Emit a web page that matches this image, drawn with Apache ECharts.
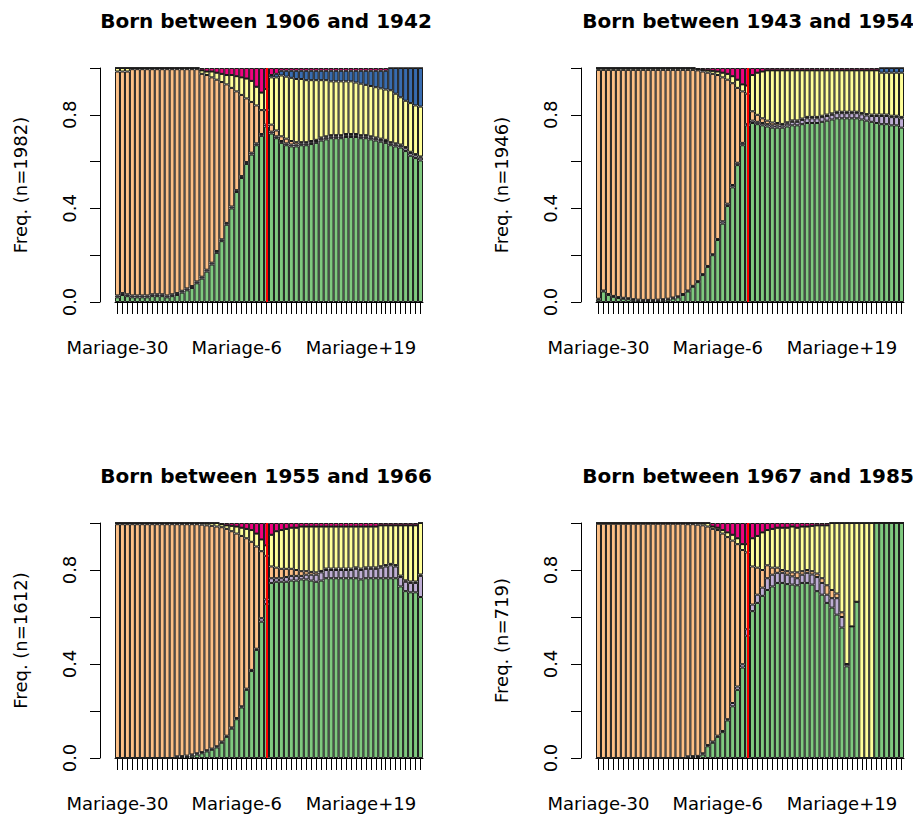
<!DOCTYPE html>
<html>
<head>
<meta charset="utf-8">
<script src="https://cdn.jsdelivr.net/npm/echarts@6/dist/echarts.min.js"></script>
<style>html,body{margin:0;padding:0;background:#fff}#c{width:913px;height:814px}</style>
</head>
<body>
<div id="c"></div>
<script>
const categories = [
"Mariage-30","Mariage-29","Mariage-28","Mariage-27","Mariage-26","Mariage-25","Mariage-24","Mariage-23","Mariage-22","Mariage-21",
"Mariage-20","Mariage-19","Mariage-18","Mariage-17","Mariage-16","Mariage-15","Mariage-14","Mariage-13","Mariage-12","Mariage-11",
"Mariage-10","Mariage-9","Mariage-8","Mariage-7","Mariage-6","Mariage-5","Mariage-4","Mariage-3","Mariage-2","Mariage-1",
"Mariage","Mariage+1","Mariage+2","Mariage+3","Mariage+4","Mariage+5","Mariage+6","Mariage+7","Mariage+8","Mariage+9",
"Mariage+10","Mariage+11","Mariage+12","Mariage+13","Mariage+14","Mariage+15","Mariage+16","Mariage+17","Mariage+18","Mariage+19",
"Mariage+20","Mariage+21","Mariage+22","Mariage+23","Mariage+24","Mariage+25","Mariage+26","Mariage+27","Mariage+28","Mariage+29",
"Mariage+30","Mariage+31"];
const shownTickLabels = ["Mariage-30","Mariage-6","Mariage+19"];
const marriageCategory = "Mariage";
const yTickLabels = ["0.0","0.4","0.8"];
const panelTitles = ["Born between 1906 and 1942","Born between 1943 and 1954","Born between 1955 and 1966","Born between 1967 and 1985"];
const yNames = ["Freq. (n=1982)","Freq. (n=1946)","Freq. (n=1612)","Freq. (n=719)"];
const stateColors = ["#7FC97F","#BEAED4","#FDC086","#FFFF99","#386CB0","#F0027F"];

// Panel 1 : 1906-1942
const p1Green = [0.02,0.03,0.025,0.02,0.02,0.02,0.02,0.025,0.025,0.025,
0.02,0.025,0.03,0.04,0.05,0.06,0.08,0.10,0.13,0.16,
0.21,0.26,0.33,0.40,0.47,0.53,0.59,0.63,0.67,0.71,
0.75,0.72,0.70,0.68,0.67,0.665,0.665,0.67,0.67,0.675,
0.68,0.69,0.695,0.70,0.70,0.70,0.705,0.705,0.705,0.70,
0.70,0.695,0.69,0.685,0.68,0.67,0.665,0.66,0.645,0.625,
0.615,0.605];
const p1Purple = [0.008,0.008,0.008,0.008,0.008,0.008,0.008,0.008,0.008,0.008,
0.008,0.008,0.008,0.008,0.008,0.008,0.008,0.008,0.008,0.008,
0.008,0.008,0.008,0.008,0.008,0.008,0.008,0.008,0.008,0.008,
0.008,0.008,0.008,0.008,0.008,0.008,0.008,0.008,0.008,0.008,
0.008,0.008,0.008,0.008,0.008,0.008,0.008,0.008,0.008,0.008,
0.008,0.008,0.008,0.008,0.008,0.008,0.008,0.008,0.012,0.012,
0.012,0.012];
const p1Orange = [0.957,0.947,0.952,0.967,0.967,0.967,0.967,0.962,0.962,0.962,
0.967,0.962,0.957,0.947,0.937,0.927,0.907,0.867,0.832,0.792,
0.732,0.672,0.592,0.507,0.422,0.347,0.272,0.217,0.162,0.102,
0.062,0.03,0.025,0.02,0.02,0.015,0.01,0.005,0.005,0.005,
0.005,0.005,0.005,0.005,0.005,0.005,0.005,0.005,0.005,0.005,
0.005,0.005,0.005,0.005,0.005,0.005,0.005,0.005,0.005,0.005,
0.005,0.005];
const p1Yellow = [0.015,0.015,0.015,0.005,0.005,0.005,0.005,0.005,0.005,0.005,
0.005,0.005,0.005,0.005,0.005,0.005,0.005,0.015,0.015,0.025,
0.03,0.035,0.04,0.055,0.065,0.075,0.085,0.09,0.08,0.075,
0.09,0.202,0.227,0.26,0.265,0.27,0.27,0.27,0.265,0.26,
0.255,0.245,0.24,0.23,0.23,0.23,0.225,0.225,0.22,0.22,
0.215,0.215,0.215,0.215,0.215,0.222,0.212,0.202,0.198,0.208,
0.208,0.213];
const p1Blue = [0,0,0,0,0,0,0,0,0,0,
0,0,0,0,0,0,0,0,0,0,
0,0,0,0,0,0,0,0,0,0,
0,0.01,0.015,0.02,0.025,0.03,0.035,0.035,0.04,0.04,
0.04,0.04,0.04,0.045,0.045,0.045,0.045,0.045,0.05,0.055,
0.06,0.065,0.07,0.075,0.08,0.095,0.11,0.125,0.14,0.15,
0.16,0.165];
const p1Pink = [0,0,0,0,0,0,0,0,0,0,
0,0,0,0,0,0,0,0.01,0.015,0.015,
0.02,0.025,0.03,0.03,0.035,0.04,0.045,0.055,0.08,0.105,
0.09,0.03,0.025,0.012,0.012,0.012,0.012,0.012,0.012,0.012,
0.012,0.012,0.012,0.012,0.012,0.012,0.012,0.012,0.012,0.012,
0.012,0.012,0.012,0.012,0.012,0,0,0,0,0,
0,0];

// Panel 2 : 1943-1954
const p2Green = [0.01,0.045,0.03,0.022,0.017,0.014,0.012,0.008,0.006,0.005,
0.005,0.005,0.006,0.008,0.01,0.015,0.02,0.03,0.045,0.065,
0.085,0.115,0.15,0.20,0.265,0.335,0.41,0.49,0.585,0.67,
0.755,0.765,0.76,0.755,0.75,0.745,0.745,0.745,0.75,0.755,
0.755,0.76,0.765,0.765,0.765,0.77,0.775,0.78,0.785,0.785,
0.785,0.785,0.785,0.78,0.775,0.77,0.765,0.76,0.76,0.755,
0.755,0.745];
const p2Purple = [0.004,0.004,0.004,0.004,0.004,0.004,0.004,0.004,0.004,0.004,
0.004,0.004,0.004,0.004,0.004,0.004,0.004,0.004,0.004,0.004,
0.004,0.004,0.004,0.004,0.004,0.01,0.01,0.01,0.01,0.01,
0.005,0.01,0.01,0.01,0.01,0.01,0.01,0.01,0.012,0.015,
0.015,0.018,0.02,0.02,0.02,0.02,0.02,0.02,0.022,0.022,
0.022,0.022,0.022,0.022,0.022,0.025,0.03,0.035,0.035,0.035,
0.035,0.04];
const p2Orange = [0.978,0.943,0.958,0.966,0.971,0.974,0.976,0.98,0.982,0.983,
0.983,0.983,0.982,0.98,0.978,0.973,0.968,0.958,0.943,0.923,
0.901,0.866,0.826,0.771,0.701,0.615,0.53,0.435,0.32,0.22,
0.13,0.04,0.03,0.02,0.015,0.012,0.01,0.006,0.006,0.006,
0.006,0.006,0.006,0.006,0.006,0.006,0.006,0.006,0.006,0.006,
0.006,0.006,0.006,0.006,0.006,0.006,0.006,0.006,0.006,0.006,
0.006,0.006];
const p2Yellow = [0.008,0.008,0.008,0.008,0.008,0.008,0.008,0.008,0.008,0.008,
0.008,0.008,0.008,0.008,0.008,0.008,0.008,0.008,0.008,0.008,
0.005,0.007,0.01,0.013,0.015,0.02,0.025,0.03,0.035,0.03,
0.035,0.155,0.18,0.20,0.215,0.223,0.225,0.229,0.222,0.214,
0.214,0.206,0.199,0.199,0.199,0.194,0.189,0.184,0.177,0.177,
0.177,0.177,0.177,0.182,0.187,0.189,0.189,0.179,0.179,0.184,
0.184,0.189];
const p2Blue = [0,0,0,0,0,0,0,0,0,0,
0,0,0,0,0,0,0,0,0,0,
0,0,0,0,0,0,0,0,0,0,
0,0,0,0,0,0,0,0,0,0,
0,0,0,0,0,0,0,0,0,0,
0,0,0,0,0,0,0,0.02,0.02,0.02,
0.02,0.02];
const p2Pink = [0,0,0,0,0,0,0,0,0,0,
0,0,0,0,0,0,0,0,0,0,
0.005,0.008,0.01,0.012,0.015,0.02,0.025,0.035,0.05,0.07,
0.075,0.03,0.02,0.015,0.01,0.01,0.01,0.01,0.01,0.01,
0.01,0.01,0.01,0.01,0.01,0.01,0.01,0.01,0.01,0.01,
0.01,0.01,0.01,0.01,0.01,0.01,0.01,0,0,0,
0,0];

// Panel 3 : 1955-1966
const p3Green = [0,0,0,0,0,0,0,0,0,0,
0,0,0.002,0.003,0.005,0.01,0.015,0.02,0.028,0.035,
0.045,0.065,0.09,0.125,0.165,0.215,0.29,0.37,0.46,0.58,
0.655,0.745,0.75,0.75,0.75,0.755,0.755,0.76,0.76,0.755,
0.75,0.755,0.765,0.765,0.765,0.765,0.765,0.765,0.765,0.76,
0.765,0.765,0.765,0.765,0.765,0.765,0.765,0.73,0.71,0.705,
0.705,0.685];
const p3Purple = [0,0,0,0,0,0,0,0,0,0,
0,0,0.005,0.005,0.005,0.005,0.005,0.005,0.005,0.005,
0.005,0.005,0.005,0.005,0.005,0.005,0.005,0.005,0.005,0.015,
0.02,0.02,0.015,0.015,0.02,0.02,0.02,0.015,0.02,0.025,
0.03,0.035,0.035,0.035,0.035,0.035,0.035,0.035,0.04,0.04,
0.04,0.04,0.04,0.045,0.05,0.055,0.05,0.04,0.04,0.04,
0.04,0.09];
const p3Orange = [0.995,0.995,0.995,0.995,0.995,0.995,0.995,0.995,0.995,0.995,
0.995,0.995,0.988,0.987,0.985,0.98,0.975,0.968,0.957,0.948,
0.935,0.912,0.88,0.835,0.785,0.725,0.64,0.545,0.435,0.285,
0.185,0.05,0.045,0.04,0.035,0.03,0.025,0.02,0.015,0.012,
0.01,0.006,0.006,0.006,0.006,0.006,0.006,0.006,0.006,0.006,
0.006,0.006,0.006,0.006,0.006,0.006,0.006,0.006,0.006,0.006,
0.006,0.006];
const p3Yellow = [0.005,0.005,0.005,0.005,0.005,0.005,0.005,0.005,0.005,0.005,
0.005,0.005,0.005,0.005,0.005,0.005,0.005,0.007,0.01,0.012,
0.015,0.013,0.015,0.023,0.03,0.035,0.04,0.05,0.055,0.05,
0.045,0.135,0.155,0.165,0.17,0.175,0.18,0.19,0.19,0.193,
0.195,0.189,0.179,0.179,0.179,0.179,0.179,0.179,0.174,0.179,
0.174,0.174,0.174,0.174,0.169,0.164,0.169,0.214,0.234,0.239,
0.239,0.219];
const p3Blue = [0,0,0,0,0,0,0,0,0,0,
0,0,0,0,0,0,0,0,0,0,
0,0,0,0,0,0,0,0,0,0,
0,0,0,0,0,0,0,0,0,0,
0,0,0,0,0,0,0,0,0,0,
0,0,0,0,0,0,0,0,0,0,
0,0];
const p3Pink = [0,0,0,0,0,0,0,0,0,0,
0,0,0,0,0,0,0,0,0,0,
0,0.005,0.01,0.012,0.015,0.02,0.025,0.03,0.045,0.07,
0.095,0.05,0.035,0.03,0.025,0.02,0.02,0.015,0.015,0.015,
0.015,0.015,0.015,0.015,0.015,0.015,0.015,0.015,0.015,0.015,
0.015,0.015,0.015,0.01,0.01,0.01,0.01,0.01,0.01,0.01,
0.01,0];

// Panel 4 : 1967-1985
const p4Green = [0,0,0,0,0,0,0,0,0,0,
0,0,0,0,0,0,0,0,0.002,0.003,
0.004,0.015,0.05,0.065,0.09,0.11,0.16,0.22,0.29,0.385,
0.52,0.625,0.66,0.69,0.715,0.73,0.745,0.745,0.74,0.738,
0.735,0.745,0.745,0.738,0.71,0.695,0.66,0.64,0.61,0.555,
0.39,0.56,0.665,0,0,0,1,1,1,1,
1,1];
const p4Purple = [0,0,0,0,0,0,0,0,0,0,
0,0,0,0,0,0,0,0,0.005,0.005,
0.005,0.005,0.005,0.005,0.005,0.005,0.005,0.014,0.014,0.014,
0.028,0.028,0.035,0.035,0.05,0.05,0.043,0.043,0.04,0.035,
0.03,0.035,0.043,0.043,0.06,0.05,0.035,0.04,0.07,0.045,
0.01,0,0,0,0,0,0,0,0,0,
0,0];
const p4Orange = [0.997,0.997,0.997,0.997,0.997,0.997,0.997,0.997,0.997,0.997,
0.997,0.997,0.997,0.997,0.997,0.997,0.997,0.997,0.988,0.987,
0.984,0.97,0.93,0.905,0.875,0.84,0.775,0.691,0.606,0.486,
0.327,0.162,0.115,0.075,0.055,0.03,0.022,0.012,0.015,0.017,
0.025,0.015,0.012,0.014,0.015,0.02,0.04,0.035,0.02,0.02,
0,0,0,0,0,0,0,0,0,0,
0,0];
const p4Yellow = [0.003,0.003,0.003,0.003,0.003,0.003,0.003,0.003,0.003,0.003,
0.003,0.003,0.003,0.003,0.003,0.003,0.003,0.003,0.005,0.005,
0.007,0.01,0.015,0.01,0.01,0.015,0.02,0.025,0.025,0.025,
0.035,0.12,0.135,0.16,0.15,0.165,0.17,0.18,0.185,0.195,
0.19,0.19,0.185,0.193,0.205,0.225,0.255,0.285,0.30,0.38,
0.60,0.44,0.335,1,1,1,0,0,0,0,
0,0];
const p4Blue = [0,0,0,0,0,0,0,0,0,0,
0,0,0,0,0,0,0,0,0,0,
0,0,0,0,0,0,0,0,0,0,
0,0,0,0,0,0,0,0,0,0,
0,0,0,0,0,0,0,0,0,0,
0,0,0,0,0,0,0,0,0,0,
0,0];
const p4Pink = [0,0,0,0,0,0,0,0,0,0,
0,0,0,0,0,0,0,0,0,0,
0,0,0,0.015,0.02,0.03,0.04,0.05,0.065,0.09,
0.09,0.065,0.055,0.04,0.03,0.025,0.02,0.02,0.02,0.015,
0.02,0.015,0.015,0.012,0.01,0.01,0.01,0,0,0,
0,0,0,0,0,0,0,0,0,0,
0,0];

const panelData = [
  [p1Green,p1Purple,p1Orange,p1Yellow,p1Blue,p1Pink],
  [p2Green,p2Purple,p2Orange,p2Yellow,p2Blue,p2Pink],
  [p3Green,p3Purple,p3Orange,p3Yellow,p3Blue,p3Pink],
  [p4Green,p4Purple,p4Orange,p4Yellow,p4Blue,p4Pink]
];

// layout (styles)
const gridBoxes = [
  {left:115, top:68, width:308, height:234},
  {left:596, top:68, width:308, height:234},
  {left:115, top:523, width:308, height:235},
  {left:596, top:523, width:308, height:235}
];
const titlePos = [[266,11],[748,11],[266,466],[748,466]];
const FONT = "DejaVu Sans";

const option = {
  animation:false,
  backgroundColor:'#fff',
  title: panelTitles.map((t,i)=>({
    text:t, left:titlePos[i][0], top:titlePos[i][1], textAlign:'center', padding:0,
    textStyle:{fontFamily:FONT, fontWeight:'bold', fontSize:20, color:'#000'}
  })),
  grid: gridBoxes.map(g=>Object.assign({containLabel:false}, g)),
  xAxis: gridBoxes.map((g,i)=>({
    type:'category', gridIndex:i, data:categories, boundaryGap:true, offset:7,
    axisLine:{show:true, lineStyle:{color:'#000', width:1}},
    axisTick:{show:true, interval:0, alignWithLabel:true, length:12, lineStyle:{color:'#000', width:1}},
    axisLabel:{interval:(idx, val)=>shownTickLabels.indexOf(val)>=0, margin:29, color:'#000', fontFamily:FONT, fontSize:18},
    splitLine:{show:false}
  })),
  yAxis: gridBoxes.map((g,i)=>({
    type:'value', gridIndex:i, min:0, max:1, interval:0.2, offset:15,
    name:yNames[i], nameLocation:'middle', nameGap:71,
    nameTextStyle:{fontFamily:FONT, fontSize:18, color:'#000'},
    axisLine:{show:true, lineStyle:{color:'#000', width:1}},
    axisTick:{show:true, length:10, lineStyle:{color:'#000', width:1}},
    axisLabel:{rotate:90, margin:22, color:'#000', fontFamily:FONT, fontSize:18,
      formatter:(v)=>{const s=v.toFixed(1); return yTickLabels.indexOf(s)>=0 ? s : '';}},
    splitLine:{show:false}
  })),
  series: []
};

panelData.forEach((states, pi)=>{
  states.forEach((vals, si)=>{
    const s = {
      type:'bar', xAxisIndex:pi, yAxisIndex:pi, stack:'panel'+pi,
      data:vals, barCategoryGap:'0%', barGap:'0%',
      itemStyle:{color:stateColors[si], borderColor:'#1a1a1a', borderWidth:1},
      emphasis:{disabled:true}, silent:true
    };
    if (si === states.length-1) {
      s.z = 4;
      s.markLine = {
        silent:true, symbol:['none','none'], label:{show:false},
        lineStyle:{color:'#FF0000', width:2, type:'solid', opacity:1},
        data:[{xAxis:marriageCategory}]
      };
    }
    option.series.push(s);
  });
});

const chart = echarts.init(document.getElementById('c'), null, {renderer:'svg'});
chart.setOption(option);
</script>
</body>
</html>
